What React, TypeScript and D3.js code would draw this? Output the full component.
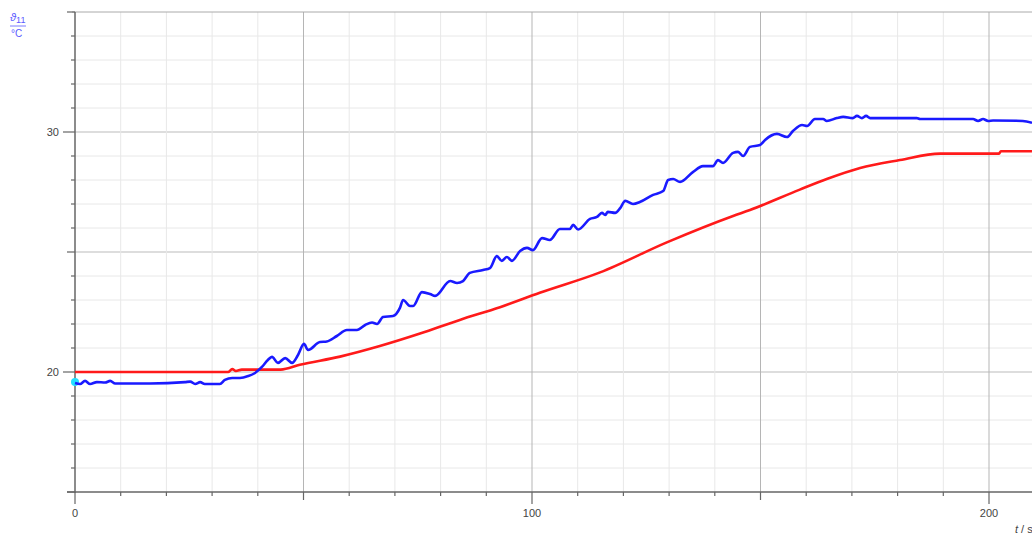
import React from "react";
import * as d3 from "d3";

// ---- data ----
const blueT = [0, 1.1, 2.2, 3.3, 4.8, 6.6, 7.7, 8.8, 16.4, 24.1, 25.2, 26.3, 27.4, 28.4, 31.7, 32.8, 34.4, 36.1, 37.9, 39.4, 40.9, 42.2, 43.1, 44.4, 46.0, 47.5, 48.8, 50.1, 51.0, 53.6, 55.1, 57.3, 59.5, 61.7, 63.5, 65.0, 66.1, 67.4, 69.6, 71.1, 71.8, 73.3, 74.0, 75.9, 77.7, 78.8, 82.1, 83.6, 84.9, 86.4, 89.3, 90.8, 92.3, 93.4, 94.5, 95.6, 97.4, 98.9, 100.2, 102.2, 103.9, 106.1, 108.3, 109.0, 110.1, 112.7, 114.2, 115.3, 116.0, 116.6, 118.2, 119.3, 120.4, 122.1, 123.6, 126.5, 128.7, 129.8, 130.9, 132.4, 135.2, 137.4, 139.6, 140.7, 141.8, 144.0, 145.1, 146.2, 147.7, 149.9, 151.0, 153.6, 155.8, 157.1, 159.1, 160.2, 161.9, 163.7, 164.5, 166.7, 168.1, 170.2, 171.1, 172.2, 173.1, 174.0, 184.2, 184.9, 196.5, 197.6, 198.7, 199.8, 200.9, 207.4, 209.4];
const blueV = [19.54, 19.5, 19.63, 19.5, 19.58, 19.56, 19.63, 19.52, 19.52, 19.58, 19.6, 19.5, 19.58, 19.5, 19.5, 19.67, 19.75, 19.75, 19.83, 19.96, 20.21, 20.5, 20.63, 20.38, 20.58, 20.38, 20.71, 21.17, 20.92, 21.25, 21.27, 21.5, 21.75, 21.75, 21.96, 22.06, 22.0, 22.29, 22.33, 22.67, 23.0, 22.75, 22.75, 23.33, 23.25, 23.17, 23.79, 23.71, 23.79, 24.13, 24.25, 24.33, 24.83, 24.63, 24.79, 24.63, 25.04, 25.17, 25.08, 25.58, 25.5, 25.96, 25.96, 26.13, 25.94, 26.38, 26.46, 26.63, 26.54, 26.67, 26.63, 26.83, 27.13, 27.0, 27.08, 27.38, 27.54, 28.0, 28.04, 27.92, 28.33, 28.58, 28.58, 28.83, 28.71, 29.13, 29.17, 29.0, 29.38, 29.46, 29.67, 29.92, 29.79, 30.04, 30.29, 30.25, 30.54, 30.54, 30.46, 30.58, 30.63, 30.58, 30.67, 30.58, 30.67, 30.58, 30.58, 30.54, 30.54, 30.46, 30.54, 30.46, 30.48, 30.46, 30.38];

const redT = [0, 33.5, 34.4, 35.2, 36.5, 45, 49.2, 58, 66.7, 75.5, 84.2, 93, 101.7, 114.9, 129.5, 144, 147.7, 158.6, 164.5, 171.8, 180.5, 189.3, 202.2, 202.6, 209.4];
const redV = [20.0, 20.0, 20.12, 20.04, 20.1, 20.1, 20.3, 20.64, 21.08, 21.6, 22.17, 22.7, 23.3, 24.15, 25.4, 26.5, 26.75, 27.6, 28.04, 28.5, 28.83, 29.1, 29.1, 29.2, 29.2];

const xLabels = [0, 100, 200];
const yLabels = [20, 30];

const W = 1032;
const H = 535;

export default function App() {
  const x = d3.scaleLinear().domain([0, 200]).range([75, 989]);
  const y = d3.scaleLinear().domain([15, 35]).range([492, 12]);
  const xEnd = x.invert(W);

  const blue = blueT.map((t, i) => [t, blueV[i]] as [number, number]);
  const red = redT.map((t, i) => [t, redV[i]] as [number, number]);
  const line = d3
    .line<[number, number]>()
    .x((d) => x(d[0]))
    .y((d) => y(d[1]))
    .curve(d3.curveMonotoneX);

  const xGrid = d3.range(10, xEnd, 10);
  const yGrid = d3.range(16, 35, 1);
  const font = "'Liberation Sans', Arial, sans-serif";

  return (
    <svg
      width={W}
      height={H}
      style={{ position: "absolute", left: 0, top: 0, display: "block" }}
    >
      <rect x={0} y={0} width={W} height={H} fill="#fff" />
      {/* grid */}
      {yGrid.map((v) => (
        <line
          key={"gy" + v}
          x1={x(0)}
          x2={W}
          y1={y(v)}
          y2={y(v)}
          stroke={v % 5 === 0 ? "#bbbbbb" : "#e8e8e8"}
          strokeWidth={1}
        />
      ))}
      {xGrid.map((v) => (
        <line
          key={"gx" + v}
          x1={x(v)}
          x2={x(v)}
          y1={y(35)}
          y2={y(15)}
          stroke={v % 50 === 0 ? "#b5b5b5" : "#e8e8e8"}
          strokeWidth={1}
        />
      ))}
      <line x1={x(0) - 3} x2={W} y1={y(35)} y2={y(35)} stroke="#aaaaaa" strokeWidth={1} />

      {/* y axis */}
      <line x1={x(0)} x2={x(0)} y1={y(35)} y2={y(15) + 1} stroke="#666" strokeWidth={1.5} />
      {d3.range(15, 36, 1).map((v) => {
        const len = v % 10 === 0 ? 12 : v % 5 === 0 ? 8 : 4;
        return (
          <line
            key={"ty" + v}
            x1={x(0) - len}
            x2={x(0)}
            y1={y(v)}
            y2={y(v)}
            stroke="#666"
            strokeWidth={1.2}
          />
        );
      })}
      {yLabels.map((v) => (
        <text
          key={"ly" + v}
          x={59}
          y={y(v)}
          dy="0.35em"
          textAnchor="end"
          fontFamily={font}
          fontSize={11}
          fill="#444"
        >
          {v}
        </text>
      ))}

      {/* x axis */}
      <line x1={x(0) - 8} x2={W} y1={y(15)} y2={y(15)} stroke="#666" strokeWidth={1.5} />
      {d3.range(0, xEnd, 10).map((v) => {
        const len = v % 100 === 0 ? 12 : v % 50 === 0 ? 8 : 4;
        return (
          <line
            key={"tx" + v}
            x1={x(v)}
            x2={x(v)}
            y1={y(15)}
            y2={y(15) + len}
            stroke="#666"
            strokeWidth={1.2}
          />
        );
      })}
      {xLabels.map((v) => (
        <text
          key={"lx" + v}
          x={x(v)}
          y={517}
          textAnchor="middle"
          fontFamily={font}
          fontSize={11}
          fill="#444"
        >
          {v}
        </text>
      ))}

      {/* axis titles */}
      <text x={1015} y={533} fontFamily={font} fontSize={11} fill="#444">
        <tspan fontStyle="italic">t</tspan> / s
      </text>
      <g fontFamily={font} fill="#5a5aff">
        <text x={10} y={21} fontSize={11}>
          <tspan fontStyle="italic">ϑ</tspan>
          <tspan fontSize={9} dy={2}>11</tspan>
        </text>
        <line x1={10} x2={26} y1={26} y2={26} stroke="#5a5aff" strokeWidth={0.8} />
        <text x={11} y={37} fontSize={10}>°C</text>
      </g>

      {/* series */}
      <path d={line(red) || ""} fill="none" stroke="#ff1a1a" strokeWidth={2.6} strokeLinejoin="round" />
      <circle cx={x(blueT[0])} cy={y(blueV[0]) - 1} r={4} fill="#22e0ff" />
      <path d={line(blue) || ""} fill="none" stroke="#1a1aff" strokeWidth={2.6} strokeLinejoin="round" />
    </svg>
  );
}
